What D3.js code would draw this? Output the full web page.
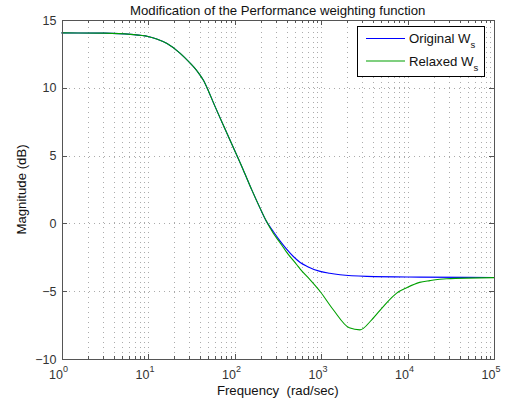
<!DOCTYPE html>
<html>
<head>
<meta charset="utf-8">
<script src="https://cdn.jsdelivr.net/npm/d3@7"></script>
<style>
  html, body { margin: 0; padding: 0; background: #fff; }
  svg { display: block; font-family: "Liberation Sans", Arial, Helvetica, sans-serif; }
</style>
</head>
<body>
<svg id="chart" width="505" height="403"></svg>
<script>
// ---- data ----
const originalFreq = [1, 3.16, 6.31, 10, 12.6, 16.6, 23.4, 30.9, 35.5, 39.8, 43.7, 50.1, 56.2, 83, 126, 158, 195, 234, 282, 339, 479, 575, 692, 977, 1259, 1660, 3388, 13804, 100000];
const originalMag  = [14.05, 14.03, 13.94, 13.78, 13.6, 13.26, 12.56, 11.8, 11.38, 10.95, 10.55, 9.75, 9.0, 6.55, 3.96, 2.49, 1.2, 0.15, -0.62, -1.33, -2.44, -2.88, -3.17, -3.54, -3.68, -3.79, -3.91, -3.96, -3.99];

const relaxedFreq = [1, 3.16, 6.31, 10, 12.6, 16.6, 23.4, 30.9, 35.5, 39.8, 43.7, 50.1, 56.2, 83, 126, 158, 195, 234, 282, 339, 398, 525, 575, 746, 977, 1387, 2123, 2825, 3855, 5248, 7499, 9772, 13804, 18197, 28184, 100000];
const relaxedMag  = [14.05, 14.03, 13.94, 13.78, 13.6, 13.26, 12.56, 11.8, 11.38, 10.95, 10.55, 9.75, 9.0, 6.55, 3.96, 2.49, 1.2, 0.15, -0.75, -1.45, -2.1, -3.05, -3.37, -4.15, -5.02, -6.37, -7.7, -7.85, -7.11, -6.13, -5.14, -4.75, -4.35, -4.22, -4.08, -4.0];

const xTickExponents = [0, 1, 2, 3, 4, 5];
const yTicks = [-10, -5, 0, 5, 10, 15];
const seriesNames = ["Original W", "Relaxed W"];
const seriesColors = ["#0000ff", "#00a000"];

const titleText = "Modification of the Performance weighting function";
const xLabelText = "Frequency\u00A0\u00A0(rad/sec)";
const yLabelText = "Magnitude (dB)";

// ---- layout ----
const L = 61.5, R = 494, T = 20, B = 359;
const svg = d3.select("#chart");
const x = d3.scaleLog().domain([1, 1e5]).range([L, R]);
const y = d3.scaleLinear().domain([-10, 15]).range([B, T]);

const axisColor = "#555";
const textColor = "#333";
const gridColor = "#ababab";

svg.append("rect").attr("x", L).attr("y", T).attr("width", R - L).attr("height", B - T).attr("fill", "#fff");

// grid
const minorVals = [];
for (let e = 0; e < 5; e++) for (let m = 1; m <= 9; m++) minorVals.push(m * Math.pow(10, e));
minorVals.push(1e5);
const grid = svg.append("g").attr("stroke", gridColor).attr("stroke-width", 1).attr("stroke-dasharray", "1,4").attr("shape-rendering", "crispEdges");
minorVals.forEach(v => {
  const px = Math.round(x(v)) + 0.5;
  if (px <= L + 1 || px >= R - 1) return;
  grid.append("line").attr("x1", px).attr("x2", px).attr("y1", T + 2).attr("y2", B);
});
yTicks.forEach(v => {
  const py = Math.round(y(v)) + 0.5;
  if (py <= T + 1 || py >= B - 1) return;
  grid.append("line").attr("x1", L + 2).attr("x2", R).attr("y1", py).attr("y2", py);
});

// curves
const line = d3.line().x(d => x(d[0])).y(d => y(d[1])).curve(d3.curveMonotoneX);
const series = [
  d3.zip(originalFreq, originalMag),
  d3.zip(relaxedFreq, relaxedMag)
];
series.forEach((s, i) => {
  svg.append("path").datum(s).attr("d", line).attr("fill", "none")
    .attr("stroke", seriesColors[i]).attr("stroke-width", 1.1).attr("stroke-linejoin", "round");
});

// ticks (inward)
const tickLen = 4;
const axes = svg.append("g").attr("stroke", axisColor).attr("shape-rendering", "crispEdges");
minorVals.forEach(v => {
  const px = Math.round(x(v)) + 0.5;
  const major = xTickExponents.some(e => Math.abs(Math.pow(10, e) - v) < 1e-6);
  const len = major ? tickLen + 1 : tickLen - 1;
  axes.append("line").attr("x1", px).attr("x2", px).attr("y1", B).attr("y2", B - len);
  axes.append("line").attr("x1", px).attr("x2", px).attr("y1", T).attr("y2", T + len);
});
yTicks.forEach(v => {
  const py = Math.round(y(v)) + 0.5;
  axes.append("line").attr("x1", L).attr("x2", L + tickLen + 1).attr("y1", py).attr("y2", py);
  axes.append("line").attr("x1", R).attr("x2", R - tickLen - 1).attr("y1", py).attr("y2", py);
});
svg.append("rect").attr("x", Math.round(L) + 0.5).attr("y", Math.round(T) + 0.5)
  .attr("width", Math.round(R) - Math.round(L)).attr("height", Math.round(B) - Math.round(T))
  .attr("fill", "none").attr("stroke", axisColor).attr("stroke-width", 1).attr("shape-rendering", "crispEdges");

// y tick labels
svg.append("g").selectAll("text").data(yTicks).join("text")
  .attr("x", L - 5).attr("y", d => y(d) + 4.5)
  .attr("text-anchor", "end").attr("font-size", 12.5).attr("fill", textColor)
  .text(d => d < 0 ? "\u2212" + Math.abs(d) : String(d));

// x tick labels 10^n
const xl = svg.append("g").selectAll("text").data(xTickExponents).join("text")
  .attr("x", d => x(Math.pow(10, d)) - 3).attr("y", 379)
  .attr("text-anchor", "middle").attr("font-size", 12.5).attr("fill", textColor);
xl.append("tspan").text("10");
xl.append("tspan").attr("dy", -7).attr("font-size", 9).text(d => String(d));

// title & axis labels
svg.append("text").attr("x", (L + R) / 2).attr("y", 15).attr("text-anchor", "middle")
  .attr("font-size", 13.2).attr("fill", "#111").text(titleText);
svg.append("text").attr("x", (L + R) / 2).attr("y", 395).attr("text-anchor", "middle")
  .attr("font-size", 13.2).attr("fill", "#111").text(xLabelText);
svg.append("text").attr("transform", `translate(26,${(T + B) / 2}) rotate(-90)`).attr("text-anchor", "middle")
  .attr("font-size", 13.2).attr("fill", "#111").text(yLabelText);

// legend
const lg = svg.append("g");
lg.append("rect").attr("x", 357.5).attr("y", 26.5).attr("width", 127).attr("height", 50)
  .attr("fill", "#fff").attr("stroke", "#000").attr("stroke-width", 1).attr("shape-rendering", "crispEdges");
seriesNames.forEach((name, i) => {
  const yy = 38.5 + i * 22.5;
  lg.append("line").attr("x1", 366).attr("x2", 405).attr("y1", yy).attr("y2", yy)
    .attr("stroke", seriesColors[i]).attr("stroke-width", 1.1);
  const t = lg.append("text").attr("x", 409).attr("y", yy + 4.5).attr("font-size", 13.2).attr("fill", "#111");
  t.append("tspan").text(name);
  t.append("tspan").attr("dy", 5).attr("font-size", 9.5).text("s");
});
</script>
</body>
</html>
